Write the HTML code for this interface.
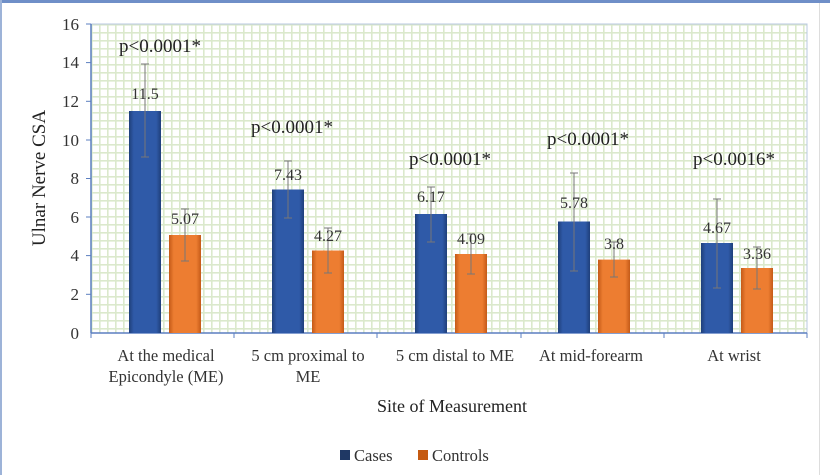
<!DOCTYPE html>
<html><head><meta charset="utf-8"><style>
html,body{margin:0;padding:0;background:#fff;}
svg{display:block;font-family:"Liberation Serif",serif;}
</style></head><body>
<svg width="830" height="475" viewBox="0 0 830 475">
<defs>
<pattern id="g" width="8" height="8" patternUnits="userSpaceOnUse" x="91" y="24">
<rect width="8" height="8" fill="#fff"/>
<rect x="0" y="0" width="8" height="1.6" fill="#dbe9cc"/>
<rect x="0" y="0" width="1.6" height="8" fill="#dbe9cc"/>
</pattern>
<linearGradient id="b" x1="0" x2="1"><stop offset="0" stop-color="#1f3f7a"/><stop offset="0.15" stop-color="#2f5aa8"/><stop offset="0.85" stop-color="#2f5aa8"/><stop offset="1" stop-color="#1f3f7a"/></linearGradient>
<linearGradient id="o" x1="0" x2="1"><stop offset="0" stop-color="#c45a18"/><stop offset="0.15" stop-color="#ed7d31"/><stop offset="0.85" stop-color="#ed7d31"/><stop offset="1" stop-color="#c45a18"/></linearGradient>
</defs>
<rect x="0" y="0" width="830" height="3" fill="#6f8fc8"/>
<rect x="0" y="0" width="2" height="475" fill="#9db3d8"/>
<rect x="819" y="3" width="1" height="472" fill="#ddd"/>
<rect x="91" y="24" width="716" height="309" fill="url(#g)" stroke="#b8c8e0" stroke-width="1"/>
<g fill="#333" font-size="17" text-anchor="end">
<text x="79" y="30">16</text><text x="79" y="68">14</text><text x="79" y="107">12</text>
<text x="79" y="146">10</text><text x="79" y="184">8</text><text x="79" y="223">6</text>
<text x="79" y="261">4</text><text x="79" y="300">2</text><text x="79" y="339">0</text>
</g>
<line x1="91" y1="24" x2="91" y2="333" stroke="#5b7fc0" stroke-width="1.5"/>
<line x1="91" y1="333" x2="807" y2="333" stroke="#5b7fc0" stroke-width="1.5"/>
<g stroke="#5b7fc0" stroke-width="1">
<line x1="86" y1="24" x2="91" y2="24"/><line x1="86" y1="62.6" x2="91" y2="62.6"/><line x1="86" y1="101.3" x2="91" y2="101.3"/><line x1="86" y1="140" x2="91" y2="140"/><line x1="86" y1="178.5" x2="91" y2="178.5"/><line x1="86" y1="217" x2="91" y2="217"/><line x1="86" y1="255.6" x2="91" y2="255.6"/><line x1="86" y1="294.3" x2="91" y2="294.3"/>
<line x1="91" y1="333" x2="91" y2="338"/><line x1="234" y1="333" x2="234" y2="338"/><line x1="377" y1="333" x2="377" y2="338"/><line x1="521" y1="333" x2="521" y2="338"/><line x1="664" y1="333" x2="664" y2="338"/><line x1="807" y1="333" x2="807" y2="338"/>
</g>
<text transform="translate(45,178) rotate(-90)" text-anchor="middle" font-size="19" fill="#222">Ulnar Nerve CSA</text>
<g>
<rect x="129" y="111" width="32" height="222" fill="url(#b)"/>
<rect x="169" y="235" width="32" height="98" fill="url(#o)"/>
<rect x="272" y="189.5" width="32" height="143.5" fill="url(#b)"/>
<rect x="312" y="250.5" width="32" height="82.5" fill="url(#o)"/>
<rect x="415" y="214" width="32" height="119" fill="url(#b)"/>
<rect x="455" y="254" width="32" height="79" fill="url(#o)"/>
<rect x="558" y="221.5" width="32" height="111.5" fill="url(#b)"/>
<rect x="598" y="259.6" width="32" height="73.4" fill="url(#o)"/>
<rect x="701" y="243" width="32" height="90" fill="url(#b)"/>
<rect x="741" y="268" width="32" height="65" fill="url(#o)"/>
</g>
<g stroke="#777" stroke-width="1" fill="none">
<path d="M145 64V157M141 64h8M141 157h8"/>
<path d="M185 209V261M181 209h8M181 261h8"/>
<path d="M288 161V218M284 161h8M284 218h8"/>
<path d="M328 228V273M324 228h8M324 273h8"/>
<path d="M431 187V242M427 187h8M427 242h8"/>
<path d="M471 234V274M467 234h8M467 274h8"/>
<path d="M574 173V271M570 173h8M570 271h8"/>
<path d="M614 242V277M610 242h8M610 277h8"/>
<path d="M717 199V288M713 199h8M713 288h8"/>
<path d="M757 247V289M753 247h8M753 289h8"/>
</g>
<g font-size="16" fill="#333" text-anchor="middle">
<text x="145" y="99">11.5</text><text x="185" y="224">5.07</text>
<text x="288" y="180">7.43</text><text x="328" y="241">4.27</text>
<text x="431" y="202">6.17</text><text x="471" y="244">4.09</text>
<text x="574" y="208">5.78</text><text x="614" y="249">3.8</text>
<text x="717" y="233">4.67</text><text x="757" y="259">3.36</text>
</g>
<g font-size="19" fill="#222" text-anchor="middle">
<text x="160" y="52">p&lt;0.0001*</text>
<text x="292" y="133">p&lt;0.0001*</text>
<text x="450" y="165">p&lt;0.0001*</text>
<text x="588" y="145">p&lt;0.0001*</text>
<text x="734" y="165">p&lt;0.0016*</text>
</g>
<g font-size="16.5" fill="#333" text-anchor="middle">
<text x="166" y="361">At the medical</text><text x="166" y="382">Epicondyle (ME)</text>
<text x="308" y="361">5 cm proximal to</text><text x="308" y="382">ME</text>
<text x="455" y="361">5 cm distal to ME</text>
<text x="591" y="361">At mid-forearm</text>
<text x="734" y="361">At wrist</text>
</g>
<text x="452" y="412" font-size="18" fill="#222" text-anchor="middle">Site of Measurement</text>
<rect x="340" y="450" width="10" height="10" fill="#1f3864"/>
<text x="354" y="461" font-size="16.5" fill="#333">Cases</text>
<rect x="418" y="450" width="10" height="10" fill="#c55a11"/>
<text x="432" y="461" font-size="16.5" fill="#333">Controls</text>
</svg>
</body></html>
